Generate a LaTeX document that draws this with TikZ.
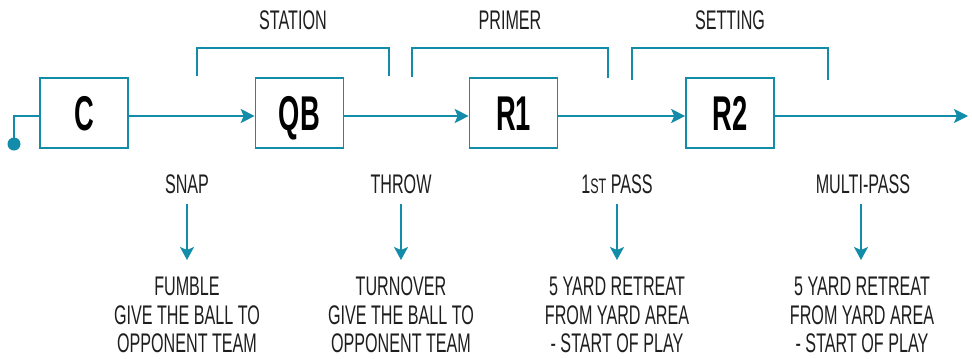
\documentclass[tikz,border=0pt]{standalone}
\usepackage{fontspec}
\setmainfont[FakeStretch=0.6]{Liberation Sans}
\newfontfamily\boxfont[FakeStretch=0.56]{Liberation Sans}
\usetikzlibrary{arrows.meta}
\definecolor{teal1}{RGB}{18,140,168}
\definecolor{txt}{RGB}{30,30,30}
\begin{document}
\begin{tikzpicture}[x=1bp,y=-1bp,
  stagebox/.style={draw=teal1,line width=1.6bp,minimum width=88bp,minimum height=70bp,inner sep=0,
     font=\boxfont\bfseries\fontsize{49}{52}\selectfont,text=black,text height=35bp,text depth=0bp},
  flow/.style={draw=teal1,line width=1.6bp,-{Stealth[length=14bp,width=14bp,inset=3bp]}},
  bracketline/.style={draw=teal1,line width=1.4bp},
  lbl/.style={font=\fontsize{27}{28.5}\selectfont,text=txt,inner sep=0,text height=19.5bp,text depth=0bp},
  outcome/.style={font=\fontsize{27}{28.5}\selectfont,text=txt,inner sep=0,align=center,anchor=north},
  downarrow/.style={draw=teal1,line width=1.6bp,-{Stealth[length=13bp,width=14bp,inset=3bp]}}]
\useasboundingbox (0,0) rectangle (972,358);
% boxes
\node[stagebox] (C) at (84,113) {C};
\node[stagebox] (QB) at (299.5,113) {QB};
\node[stagebox] (R1) at (513.5,113) {R1};
\node[stagebox] (R2) at (730,113) {R2};
% start dot and end
\coordinate (start) at (14,144);
\coordinate (endpt) at (968,116);
\fill[teal1] (start) circle (6.5bp);
\draw[draw=teal1,line width=1.6bp] (start) |- ([yshift=-3bp]C.west);
\draw[flow] ([yshift=-3bp]C.east) -- ([yshift=-3bp]QB.west);
\draw[flow] ([yshift=-3bp]QB.east) -- ([yshift=-3bp]R1.west);
\draw[flow] ([yshift=-3bp]R1.east) -- ([yshift=-3bp]R2.west);
\draw[flow] ([yshift=-3bp]R2.east) -- (endpt);
% brackets
\coordinate (s1) at (197,76); \coordinate (s2) at (389,76);
\coordinate (p1) at (412,77); \coordinate (p2) at (608,78);
\coordinate (g1) at (632,80); \coordinate (g2) at (828,80);
\draw[bracketline] (s1) -- (197,48) -- (389,48) -- (s2);
\draw[bracketline] (p1) -- (412,48) -- (608,48) -- (p2);
\draw[bracketline] (g1) -- (632,48) -- (828,48) -- (g2);
\node[lbl] (station) at (293,20) {STATION};
\node[lbl] (primer) at (510,20) {PRIMER};
\node[lbl] (setting) at (730,20) {SETTING};
% lower labels
\node[lbl] (snap) at (187,184) {SNAP};
\node[lbl] (throw) at (401,184) {THROW};
\node[lbl] (pass1) at (617,184) {1{\fontsize{21}{22}\selectfont ST} PASS};
\node[lbl] (multi) at (863,184) {MULTI-PASS};
\node[outcome] (fumble) at (187,277) {FUMBLE\\GIVE THE BALL TO\\OPPONENT TEAM};
\node[outcome] (turnover) at (401,277) {TURNOVER\\GIVE THE BALL TO\\OPPONENT TEAM};
\node[outcome] (retreat1) at (617,277) {5 YARD RETREAT\\FROM YARD AREA\\- START OF PLAY};
\node[outcome] (retreat2) at (862,277) {5 YARD RETREAT\\FROM YARD AREA\\- START OF PLAY};
\draw[downarrow,shorten <=10bp] (snap.south) -- (snap.south |- 0,260);
\draw[downarrow,shorten <=10bp] (throw.south) -- (throw.south |- 0,260);
\draw[downarrow,shorten <=10bp] (pass1.south) -- (pass1.south |- 0,260);
\draw[downarrow,shorten <=10bp] ([xshift=-2bp]multi.south) -- ([xshift=-2bp]multi.south |- 0,260);
\end{tikzpicture}
\end{document}
